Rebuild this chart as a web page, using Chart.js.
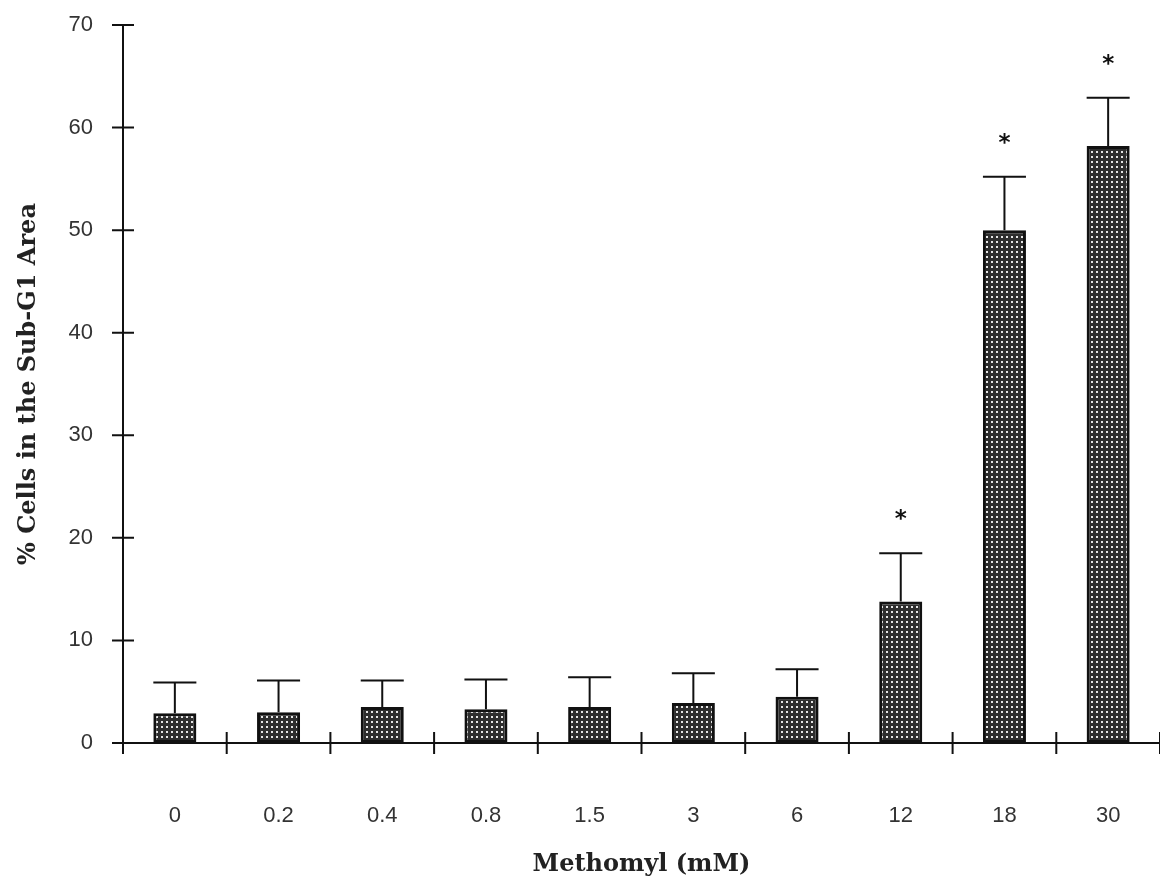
<!DOCTYPE html>
<html>
<head>
<meta charset="utf-8">
<script src="https://cdn.jsdelivr.net/npm/chart.js@4.4.1/dist/chart.umd.min.js"></script>
<style>
  html, body { margin: 0; padding: 0; background: #fff; }
  #wrap { width: 1160px; height: 879px; }
</style>
</head>
<body>
<div id="wrap"><canvas id="myChart" width="1160" height="879"></canvas></div>
<script>
// doses of methomyl (mM)
var doses = ['0', '0.2', '0.4', '0.8', '1.5', '3', '6', '12', '18', '30'];
// mean % cells in sub-G1
var means = [2.9, 3.0, 3.5, 3.3, 3.5, 3.9, 4.5, 13.8, 50.0, 58.2];
// standard deviation (upper error bar)
var sds = [3.0, 3.1, 2.6, 2.9, 2.9, 2.9, 2.7, 4.7, 5.2, 4.7];
// significant vs control
var signif = [false, false, false, false, false, false, false, true, true, true];
var yTicks = [0, 10, 20, 30, 40, 50, 60, 70];

// stippled fill like the printed bars
function makePattern() {
    var c = document.createElement('canvas');
    c.width = 5; c.height = 5;
    var p = c.getContext('2d');
    p.fillStyle = '#2e2e2e';
    p.fillRect(0, 0, 5, 5);
    p.fillStyle = '#e6e6e6';
    p.fillRect(1, 1, 2, 2);
    return p.createPattern(c, 'repeat');
}

var tickLen = 11;

// error bars, asterisks and the crossing tick marks
var extras = {
    id: 'extras',
    afterDatasetsDraw: function(chart) {
        var ctx = chart.ctx;
        var y = chart.scales.y;
        var meta = chart.getDatasetMeta(0);
        ctx.save();
        ctx.strokeStyle = '#111';
        ctx.lineWidth = 2;
        meta.data.forEach(function(bar, i) {
            var top = y.getPixelForValue(means[i] + sds[i]);
            var half = bar.width / 2;
            ctx.beginPath();
            ctx.moveTo(bar.x, bar.y);
            ctx.lineTo(bar.x, top);
            ctx.moveTo(bar.x - half, top);
            ctx.lineTo(bar.x + half, top);
            ctx.stroke();
            if (signif[i]) {
                ctx.fillStyle = '#111';
                ctx.font = 'bold 23px "DejaVu Sans"';
                ctx.textAlign = 'center';
                ctx.textBaseline = 'middle';
                ctx.fillText('*', bar.x, top - 33);
            }
        });
        ctx.restore();
    },
    afterDraw: function(chart) {
        var ctx = chart.ctx;
        var x = chart.scales.x;
        var y = chart.scales.y;
        ctx.save();
        ctx.strokeStyle = '#111';
        ctx.lineWidth = 2;
        ctx.beginPath();
        yTicks.forEach(function(v) {
            var py = y.getPixelForValue(v);
            ctx.moveTo(x.left - tickLen, py);
            ctx.lineTo(x.left + tickLen, py);
        });
        var n = doses.length;
        for (var i = 0; i <= n; i++) {
            var px = x.left + (x.right - x.left) * i / n;
            ctx.moveTo(px, y.bottom - tickLen);
            ctx.lineTo(px, y.bottom + tickLen);
        }
        ctx.stroke();
        ctx.restore();
    }
};

var ctx = document.getElementById('myChart').getContext('2d');
var chart = new Chart(ctx, {
    type: 'bar',
    data: {
        labels: doses,
        datasets: [{
            data: means,
            backgroundColor: makePattern(),
            borderColor: '#111',
            borderWidth: 3,
            borderSkipped: false,
            categoryPercentage: 1.0,
            barPercentage: 0.415
        }]
    },
    plugins: [extras],
    options: {
        responsive: false,
        animation: false,
        layout: { padding: { top: 25, right: 0, left: 0, bottom: 0 } },
        plugins: {
            legend: { display: false },
            tooltip: { enabled: false }
        },
        scales: {
            x: {
                grid: { display: false },
                border: { display: true, color: '#111', width: 2 },
                ticks: {
                    color: '#333',
                    padding: 52,
                    maxRotation: 0,
                    font: { family: '"Liberation Sans"', size: 22 }
                },
                title: {
                    display: true,
                    text: 'Methomyl (mM)',
                    color: '#222',
                    padding: { top: 0, bottom: 0 },
                    font: { family: '"DejaVu Serif"', size: 24, weight: 'bold' }
                },
                afterFit: function(s) {
                    s.height = 136;
                    s.paddingLeft = 0;
                    s.paddingRight = 0;
                }
            },
            y: {
                min: 0,
                max: 70,
                grid: { display: false },
                border: { display: true, color: '#111', width: 2 },
                ticks: {
                    stepSize: 10,
                    color: '#333',
                    padding: 22,
                    font: { family: '"Liberation Sans"', size: 22 }
                },
                title: {
                    display: true,
                    text: '% Cells in the Sub-G1 Area',
                    color: '#222',
                    padding: { top: 14, bottom: 0 },
                    font: { family: '"DejaVu Serif"', size: 24, weight: 'bold' }
                },
                afterFit: function(s) {
                    s.width = 123;
                    s.paddingTop = 0;
                    s.paddingBottom = 0;
                }
            }
        }
    }
});
</script>
</body>
</html>
